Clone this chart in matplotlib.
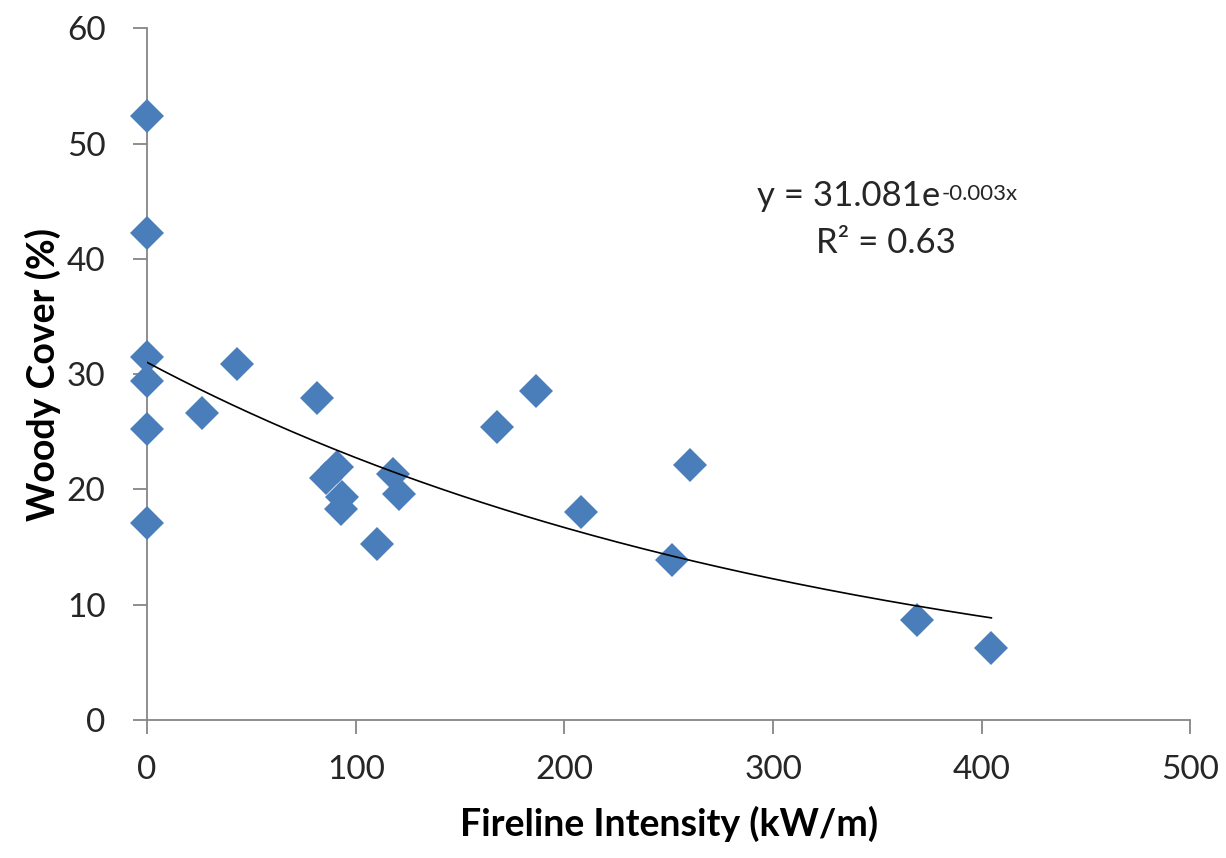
import numpy as np
import matplotlib
matplotlib.use("Agg")
import matplotlib.pyplot as plt

plt.rcParams['font.family'] = ['Lato', 'DejaVu Sans']

# Fireline intensity (kW/m) and woody cover (%)
intensity = [0, 0, 0, 0, 0, 0, 26.3, 43.1, 81.6, 85.6, 91.2, 93.6, 92.8,
             110.4, 117.6, 120.8, 167.9, 186.5, 207.9, 251.7, 260.3, 369.0, 404.6]
woody_cover = [52.4, 42.2, 31.5, 29.4, 25.2, 17.1, 26.6, 30.9, 27.9, 21.0, 21.9, 19.3, 18.3,
               15.3, 21.3, 19.6, 25.4, 28.5, 18.0, 13.9, 22.1, 8.7, 6.2]

# exponential trendline as printed on the chart
coef_a = '31.081'
coef_b = '-0.003'
r_squared = '0.63'

x = np.array(intensity)
y = np.array(woody_cover)

# fit exponential the way the spreadsheet does (regression on ln y)
b_fit, ln_a = np.polyfit(x, np.log(y), 1)
xs = np.linspace(x.min(), x.max(), 200)
ys = np.exp(ln_a) * np.exp(b_fit * xs)

fig = plt.figure(figsize=(12.26, 8.58), dpi=100)
ax = fig.add_axes([0.12, 0.161, 0.851, 0.806])

ax.plot(x, y, linestyle='none', marker='D', markersize=17, color='#4A7EBB',
        markeredgewidth=0, zorder=3, clip_on=False)
ax.plot(xs, ys, color='black', linewidth=1.2, zorder=4)

ax.set_xlim(0, 500)
ax.set_ylim(0, 60)
ax.set_xticks(range(0, 501, 100))
ax.set_yticks(range(0, 61, 10))

for side in ['top', 'right']:
    ax.spines[side].set_visible(False)
for side in ['left', 'bottom']:
    ax.spines[side].set_color('#868686')
    ax.spines[side].set_linewidth(1.3)
ax.tick_params(axis='both', direction='out', length=10, width=1.3, color='#868686',
               labelsize=24, labelcolor='#262626')
ax.tick_params(axis='x', pad=15)
ax.tick_params(axis='y', pad=20)

ax.set_xlabel('Fireline Intensity (kW/m)', fontsize=27, fontweight='bold', labelpad=15)
ax.set_ylabel('Woody Cover (%)', fontsize=27, fontweight='bold', labelpad=4)

eq = ax.text(380, 44.6, f'y = {coef_a}e', fontsize=25, ha='right', va='baseline',
             color='#262626')
ax.annotate(f'{coef_b}x', xy=(1, 1), xycoords=eq, xytext=(1, -3),
            textcoords='offset points', fontsize=16, ha='left', va='top', color='#262626')
ax.text(354, 40.5, f'R² = {r_squared}', fontsize=25, ha='center', va='baseline',
        color='#262626')

fig.savefig('out.png', dpi=100)
